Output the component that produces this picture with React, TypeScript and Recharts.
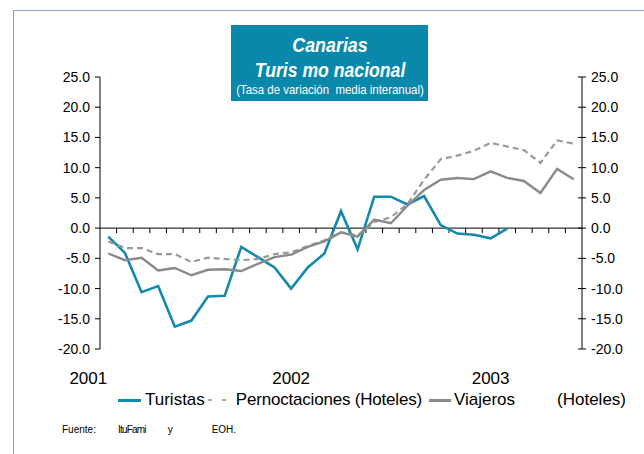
import React from "react";
import { ComposedChart, Line, XAxis, YAxis, ReferenceLine, Legend } from "recharts";

const FONT = "'Liberation Sans', Arial, sans-serif";
const TUR = "#1389ad";
const PER = "#999999";
const VIA = "#8a8a8a";

const months = [
  "feb-01", "mar-01", "abr-01", "may-01", "jun-01", "jul-01", "ago-01", "sep-01", "oct-01", "nov-01", "dic-01",
  "ene-02", "feb-02", "mar-02", "abr-02", "may-02", "jun-02", "jul-02", "ago-02", "sep-02", "oct-02", "nov-02", "dic-02",
  "ene-03", "feb-03", "mar-03", "abr-03", "may-03", "jun-03",
];

const turistas = [
  -1.4, -4.1, -10.6, -9.6, -16.3, -15.3, -11.3, -11.2, -3.1, -4.8, -6.5, -10.0,
  -6.5, -4.2, 2.8, -3.5, 5.2, 5.2, 3.9, 5.3, 0.5, -0.9, -1.1, -1.7, -0.1,
  null, null, null, null,
];
const pernoctaciones = [
  -2.2, -3.3, -3.3, -4.3, -4.3, -5.6, -4.9, -5.1, -5.3, -5.1, -4.3, -4.0,
  -3.0, -2.0, -0.7, -1.2, 1.0, 1.8, 4.0, 8.0, 11.4, 12.0, 12.8, 14.1, 13.5,
  12.9, 10.8, 14.5, 14.0,
];
const viajeros = [
  -4.2, -5.3, -4.9, -7.0, -6.6, -7.8, -6.9, -6.8, -7.1, -5.9, -4.8, -4.4,
  -3.1, -2.2, -0.7, -1.4, 1.4, 0.8, 3.7, 6.3, 8.0, 8.3, 8.1, 9.4, 8.3,
  7.8, 5.8, 9.8, 8.1,
];

const seriesNames = ["Turistas", "Pernoctaciones (Hoteles)", "Viajeros (Hoteles)"];
const yTicks = [-20, -15, -10, -5, 0, 5, 10, 15, 20, 25];
const yearTicks = ["feb-01", "ene-02", "ene-03"];
const yearLabels = ["2001", "2002", "2003"];

const data = months.map((m, i) => ({
  month: m,
  turistas: turistas[i],
  pernoctaciones: pernoctaciones[i],
  viajeros: viajeros[i],
}));

function YearTick(props: any) {
  const { x, y, payload } = props;
  const i = yearTicks.indexOf(payload.value);
  return (
    <text x={x} y={y} dx={i === 0 ? -20 : 0} dy="0.71em" textAnchor="middle"
      fontSize={17} fontFamily={FONT} fill="#000">
      {yearLabels[i]}
    </text>
  );
}

function LeftTick(props: any) {
  const { x, y, payload } = props;
  return (
    <text x={x} y={y} dy="0.355em" textAnchor="end" fontSize={14} fontFamily={FONT} fill="#000">
      {Number(payload.value).toFixed(1)}
    </text>
  );
}

function RightTick(props: any) {
  const { x, y, payload } = props;
  return (
    <g>
      <line x1={x - 13} x2={x - 9} y1={y} y2={y} stroke="#000" />
      <text x={x} y={y} dy="0.355em" textAnchor="start" fontSize={14} fontFamily={FONT} fill="#000">
        {Number(payload.value).toFixed(1)}
      </text>
    </g>
  );
}

// zero line doubles as the category axis, with marks between months
function ZeroAxis(props: any) {
  const { x1, y1, x2, y2 } = props;
  const n = months.length;
  const step = (x2 - x1) / n;
  const marks = [];
  for (let k = 1; k < n; k++) {
    const x = x1 + k * step;
    marks.push(<line key={k} x1={x} x2={x} y1={y1} y2={y1 + 5} stroke="#000" />);
  }
  return (
    <g>
      <line x1={x1} y1={y1} x2={x2} y2={y2} stroke="#000" />
      {marks}
    </g>
  );
}

function LegendContent() {
  const [via, hot] = seriesNames[2].split(" ");
  return (
    <div style={{
      display: "flex", alignItems: "center", height: 22, paddingLeft: 118,
      fontFamily: FONT, fontSize: 17, color: "#000", whiteSpace: "pre",
    }}>
      <span style={{ width: 23, height: 3, background: TUR }} />
      <span style={{ marginLeft: 4 }}>{seriesNames[0]}</span>
      <span style={{ marginLeft: 3, width: 4, height: 2, background: "#aaa" }} />
      <span style={{ marginLeft: 10, width: 4, height: 2, background: "#aaa" }} />
      <span style={{ marginLeft: 10, letterSpacing: -0.2 }}>{seriesNames[1]}</span>
      <span style={{ marginLeft: 7, width: 22, height: 3, background: VIA }} />
      <span style={{ marginLeft: 3 }}>{via}</span>
      <span style={{ marginLeft: 42 }}>{hot}</span>
    </div>
  );
}

const titleLine = {
  width: 300, marginLeft: -51.5, textAlign: "center" as const,
};

export default function App() {
  return (
    <div style={{ position: "relative", width: 644, height: 454, background: "#fff", overflow: "hidden" }}>
      <style>{"body{margin:0}"}</style>
      <div style={{
        position: "absolute", left: 13, top: 10, right: 0, bottom: 0,
        borderTop: "1px solid #8aa0c2", borderLeft: "1px solid #8aa0c2",
      }} />
      <ComposedChart width={644} height={454} data={data}
        margin={{ top: 77, right: 12, bottom: 65, left: 40 }}>
        <XAxis dataKey="month" scale="band" ticks={yearTicks} interval={0} height={40}
          axisLine={false} tickLine={false} tickMargin={17}
          tick={<YearTick />} />
        <YAxis width={60} domain={[-20, 25]} ticks={yTicks} type="number"
          axisLine={{ stroke: "#000" }} tickLine={{ stroke: "#000" }} tickSize={5} tickMargin={5}
          tick={<LeftTick />} />
        <YAxis yAxisId="r" orientation="right" width={50} domain={[-20, 25]} ticks={yTicks} type="number"
          axisLine={{ stroke: "#000" }} tickLine={{ stroke: "#000" }}
          tickSize={4} tickMargin={5} tick={<RightTick />} />
        <ReferenceLine y={0} shape={ZeroAxis} />
        <Line dataKey="turistas" name={seriesNames[0]} stroke={TUR}
          strokeWidth={2.6} dot={false} isAnimationActive={false} />
        <Line dataKey="pernoctaciones" name={seriesNames[1]} stroke={PER}
          strokeWidth={2.2} strokeDasharray="6 4" dot={false} isAnimationActive={false} />
        <Line yAxisId="r" dataKey="viajeros" name={seriesNames[2]} stroke={VIA}
          strokeWidth={2.4} dot={false} isAnimationActive={false} />
        <Legend layout="horizontal" verticalAlign="middle" align="center"
          wrapperStyle={{ left: 0, top: 389, width: 644, height: 22 }}
          content={<LegendContent />} />
      </ComposedChart>
      <div style={{
        position: "absolute", left: 231, top: 25, width: 197, height: 76,
        background: "#0a88ab", color: "#fff", fontFamily: FONT,
        paddingTop: 7, boxSizing: "border-box", whiteSpace: "pre",
      }}>
        <div style={{ ...titleLine, fontSize: 21, lineHeight: "25px", fontWeight: 700, fontStyle: "italic", transform: "scaleX(0.85)" }}>
          Canarias
        </div>
        <div style={{ ...titleLine, fontSize: 21, lineHeight: "25px", fontWeight: 700, fontStyle: "italic", transform: "scaleX(0.84)" }}>
          Turis mo nacional
        </div>
        <div style={{ ...titleLine, fontSize: 13, lineHeight: "16px", transform: "scaleX(0.88)" }}>
          (Tasa de variación  media interanual)
        </div>
      </div>
      <div style={{
        position: "absolute", left: 62, top: 424, fontFamily: FONT, fontSize: 10,
        color: "#000", whiteSpace: "pre", display: "flex",
      }}>
        <span>Fuente:</span>
        <span style={{ marginLeft: 22, letterSpacing: -0.8 }}>ItuFami</span>
        <span style={{ marginLeft: 22 }}>y</span>
        <span style={{ marginLeft: 39 }}>EOH.</span>
      </div>
    </div>
  );
}
